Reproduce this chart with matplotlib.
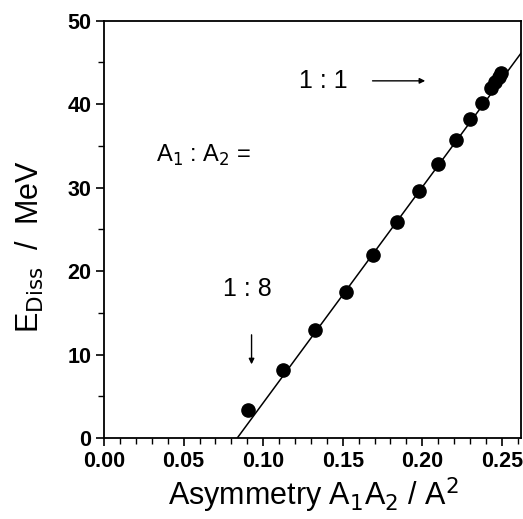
import matplotlib
matplotlib.use("Agg")
import matplotlib.pyplot as plt
import numpy as np
from matplotlib.ticker import MultipleLocator

plt.rcParams['font.family'] = ['Liberation Sans', 'DejaVu Sans']

asym = [0.0907, 0.1126, 0.1328, 0.1520, 0.1688, 0.1844, 0.1980, 0.2100, 0.2210,
        0.2300, 0.2375, 0.2432, 0.2458, 0.2480, 0.2497]
ediss = [3.3, 8.1, 13.0, 17.5, 21.9, 25.9, 29.6, 32.8, 35.7, 38.25, 40.2, 41.9,
         42.7, 43.3, 43.7]
fit_x = [0.0837, 0.262]
fit_y = [0.0, 46.1]
xticks = [0.00, 0.05, 0.10, 0.15, 0.20, 0.25]
yticks = [0, 10, 20, 30, 40, 50]

fig = plt.figure(figsize=(5.23, 5.19), dpi=100)
ax = fig.add_axes([0.199, 0.156, 0.797, 0.804])

ax.plot(fit_x, fit_y, color='black', lw=1.1, zorder=2)
ax.plot(asym, ediss, 'o', color='black', ms=9.5, zorder=3)

ax.set_xlim(0, 0.262)
ax.set_ylim(0, 50)
ax.set_xticks(xticks)
ax.set_xticklabels([f"{v:.2f}" for v in xticks])
ax.set_yticks(yticks)
ax.xaxis.set_minor_locator(MultipleLocator(0.01))
ax.yaxis.set_minor_locator(MultipleLocator(5))
ax.tick_params(axis='both', which='major', direction='out', length=6, width=1.2,
               labelsize=15.5, pad=3)
ax.tick_params(axis='both', which='minor', direction='out', length=4, width=1.0)
for lab in ax.get_xticklabels() + ax.get_yticklabels():
    lab.set_fontweight('bold')
for s in ax.spines.values():
    s.set_linewidth(1.3)

fig.text(0.60, 0.026, r"Asymmetry A$_1$A$_2$ / A$^2$", ha='center', va='baseline',
         fontsize=22)
fig.text(0.058, 0.525, r"E$_{\rm Diss}$  /  MeV", ha='center', va='center',
         fontsize=22, rotation=90)

ax.text(0.138, 42.8, "1 : 1", ha='center', va='center', fontsize=18)
ax.annotate("", xy=(0.2036, 42.8), xytext=(0.167, 42.8),
            arrowprops=dict(arrowstyle='-|>', color='black', lw=1.0,
                            mutation_scale=8))
ax.text(0.0326, 33.9, r"A$_1$ : A$_2$ =", ha='left', va='center', fontsize=17)
ax.text(0.090, 17.9, "1 : 8", ha='center', va='center', fontsize=18)
ax.annotate("", xy=(0.0927, 8.5), xytext=(0.0927, 12.7),
            arrowprops=dict(arrowstyle='-|>', color='black', lw=1.0,
                            mutation_scale=8))

fig.savefig("out.png", dpi=100)
